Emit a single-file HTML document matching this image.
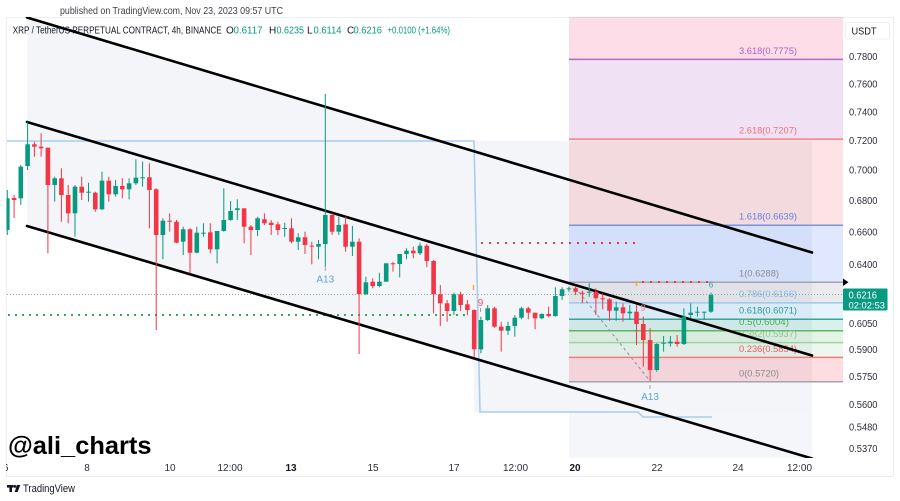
<!DOCTYPE html>
<html>
<head>
<meta charset="utf-8">
<style>
  html,body{margin:0;padding:0;background:#fff;}
  svg{display:block;font-family:"Liberation Sans",Arial,sans-serif;}
</style>
</head>
<body>
<svg width="900" height="501" viewBox="0 0 900 501" xmlns="http://www.w3.org/2000/svg">
  <defs>
    <clipPath id="plot"><rect x="6.5" y="17" width="836.5" height="441"/></clipPath>
    <clipPath id="tax"><rect x="6" y="455" width="840" height="20"/></clipPath>
  </defs>
  <rect width="900" height="501" fill="#fff"/>

  <!-- header -->
  <text x="60" y="14" font-size="10.5" fill="#3c3f47" textLength="223" lengthAdjust="spacingAndGlyphs">published on TradingView.com, Nov 23, 2023 09:57 UTC</text>

  <!-- panel border -->
  <rect x="6.5" y="17.5" width="887" height="459" fill="none" stroke="#eceef2" stroke-width="1"/>

  <g clip-path="url(#plot)">
    <!-- channel fill -->
    <polygon points="27,17.5 812,252.5 812,458.5 27,226" fill="#f3f5f8"/>
    <rect x="474" y="141" width="338" height="271" fill="#f3f5f8"/>
    <rect x="569" y="412" width="243" height="47" fill="#f5f6f9"/>

    <!-- fib fills -->
    <rect x="569" y="12" width="274" height="47.4" fill="#e91e63" fill-opacity="0.15"/>
    <rect x="569" y="59.4" width="274" height="79.7" fill="#9c27b0" fill-opacity="0.14"/>
    <rect x="569" y="139.1" width="274" height="86.2" fill="#f23645" fill-opacity="0.14"/>
    <rect x="569" y="225.3" width="274" height="57" fill="#2962ff" fill-opacity="0.15"/>
    <rect x="569" y="282.3" width="274" height="20.6" fill="#787b86" fill-opacity="0.15"/>
    <rect x="569" y="302.9" width="274" height="16.3" fill="#64b5f6" fill-opacity="0.17"/>
    <rect x="569" y="319.2" width="274" height="11.6" fill="#089981" fill-opacity="0.15"/>
    <rect x="569" y="330.8" width="274" height="11.8" fill="#4caf50" fill-opacity="0.15"/>
    <rect x="569" y="342.6" width="274" height="14.8" fill="#81c784" fill-opacity="0.15"/>
    <rect x="569" y="357.4" width="274" height="24.3" fill="#f23645" fill-opacity="0.17"/>

    <!-- fib lines -->
    <g stroke-width="1.5">
      <line x1="569" y1="59.4" x2="843" y2="59.4" stroke="#b06bc4"/>
      <line x1="569" y1="139.1" x2="843" y2="139.1" stroke="#ef7f84"/>
      <line x1="569" y1="225.3" x2="843" y2="225.3" stroke="#7b93e6"/>
      <line x1="569" y1="282.3" x2="843" y2="282.3" stroke="#a3a5ad"/>
      <line x1="569" y1="302.9" x2="843" y2="302.9" stroke="#9cc9ee"/>
      <line x1="569" y1="319.2" x2="843" y2="319.2" stroke="#3aa597"/>
      <line x1="569" y1="330.8" x2="843" y2="330.8" stroke="#5cb860"/>
      <line x1="569" y1="342.6" x2="843" y2="342.6" stroke="#9fd3a1"/>
      <line x1="569" y1="357.4" x2="843" y2="357.4" stroke="#f07c80"/>
      <line x1="569" y1="381.7" x2="843" y2="381.7" stroke="#a3a5ad"/>
    </g>

    <!-- fib labels -->
    <g font-size="9.5" lengthAdjust="spacingAndGlyphs">
      <text x="739" y="54" fill="#b05fc0" textLength="58" lengthAdjust="spacingAndGlyphs">3.618(0.7775)</text>
      <text x="739" y="133.5" fill="#e8757a" textLength="58" lengthAdjust="spacingAndGlyphs">2.618(0.7207)</text>
      <text x="739" y="219.5" fill="#6680e0" textLength="58" lengthAdjust="spacingAndGlyphs">1.618(0.6639)</text>
      <text x="739" y="276.5" fill="#8a8c94" textLength="40" lengthAdjust="spacingAndGlyphs">1(0.6288)</text>
      <text x="739" y="297" fill="#8ab8e6" textLength="58" lengthAdjust="spacingAndGlyphs">0.786(0.6166)</text>
      <text x="739" y="313.5" fill="#2a9d8f" textLength="58" lengthAdjust="spacingAndGlyphs">0.618(0.6071)</text>
      <text x="739" y="325" fill="#4caf50" textLength="50" lengthAdjust="spacingAndGlyphs">0.5(0.6004)</text>
      <text x="739" y="337" fill="#8cc78e" textLength="58" lengthAdjust="spacingAndGlyphs">0.382(0.5937)</text>
      <text x="739" y="352" fill="#f05a5f" textLength="58" lengthAdjust="spacingAndGlyphs">0.236(0.5854)</text>
      <text x="739" y="376.5" fill="#8a8c94" textLength="40" lengthAdjust="spacingAndGlyphs">0(0.5720)</text>
    </g>

    <!-- blue step line -->
    <path d="M7,141 H474 L480,412 H638 L643,417 H712" fill="none" stroke="#a8cdf0" stroke-width="1.6"/>

    <!-- dotted lines -->
    <line x1="7" y1="294.5" x2="843" y2="294.5" stroke="#86aba6" stroke-width="1" stroke-dasharray="1 2"/>
    <line x1="8" y1="315" x2="470" y2="315" stroke="#3aa85a" stroke-width="2" stroke-dasharray="2 5"/>
    <line x1="481" y1="243" x2="641" y2="243" stroke="#f23645" stroke-width="2" stroke-dasharray="2 6"/>
    <line x1="642" y1="282" x2="710" y2="282" stroke="#f23645" stroke-width="2" stroke-dasharray="2 6"/>

    <!-- dashed diagonal -->
    <line x1="575" y1="287" x2="650" y2="381" stroke="#8e9199" stroke-width="1" stroke-dasharray="3 3"/>

    <!-- channel lines -->
    <g stroke="#000" stroke-width="2.6" stroke-linecap="round">
      <line x1="27" y1="17.5" x2="812" y2="252.5"/>
      <line x1="27" y1="122" x2="812" y2="355.5"/>
      <line x1="27" y1="226" x2="812" y2="458.5"/>
    </g>

    <!-- green candles -->
    <g fill="#089981">
      <rect x="6.8" y="190" width="1" height="45"/><rect x="5.0" y="198.3" width="4.6" height="31.7"/>
      <rect x="20.3" y="165" width="1" height="40"/><rect x="18.5" y="166.7" width="4.6" height="31.6"/>
      <rect x="27.1" y="121.7" width="1" height="48.3"/><rect x="25.3" y="144.3" width="4.6" height="21.7"/>
      <rect x="54.2" y="176.7" width="1" height="25"/><rect x="52.4" y="178.3" width="4.6" height="6.7"/>
      <rect x="74.5" y="185" width="1" height="51.7"/><rect x="72.7" y="186.7" width="4.6" height="26.6"/>
      <rect x="88.0" y="182.7" width="1" height="19"/><rect x="86.2" y="191.7" width="4.6" height="1"/>
      <rect x="101.5" y="171.7" width="1" height="38.3"/><rect x="99.7" y="180.7" width="4.6" height="28.6"/>
      <rect x="115.1" y="180" width="1" height="16.7"/><rect x="113.3" y="186" width="4.6" height="8.3"/>
      <rect x="128.6" y="178.3" width="1" height="21"/><rect x="126.8" y="183.3" width="4.6" height="6"/>
      <rect x="135.4" y="159.3" width="1" height="25.7"/><rect x="133.6" y="177.7" width="4.6" height="5.6"/>
      <rect x="142.1" y="161.7" width="1" height="25"/><rect x="140.3" y="177.3" width="4.6" height="1"/>
      <rect x="162.4" y="218.3" width="1" height="41"/><rect x="160.6" y="220.7" width="4.6" height="14.3"/>
      <rect x="182.7" y="226.7" width="1" height="28.3"/><rect x="180.9" y="229.3" width="4.6" height="12.4"/>
      <rect x="196.3" y="226.7" width="1" height="26.6"/><rect x="194.5" y="232.7" width="4.6" height="20"/>
      <rect x="203.0" y="223.3" width="1" height="13.4"/><rect x="201.2" y="232.7" width="4.6" height="1"/>
      <rect x="216.6" y="231" width="1" height="32.3"/><rect x="214.8" y="231" width="4.6" height="18.3"/>
      <rect x="223.3" y="188.3" width="1" height="43.4"/><rect x="221.5" y="220" width="4.6" height="11"/>
      <rect x="230.1" y="201" width="1" height="19.7"/><rect x="228.3" y="211" width="4.6" height="9"/>
      <rect x="236.8" y="199.3" width="1" height="20.7"/><rect x="235.0" y="208.3" width="4.6" height="1.7"/>
      <rect x="257.1" y="216.7" width="1" height="19.3"/><rect x="255.3" y="218.3" width="4.6" height="11.7"/>
      <rect x="284.2" y="222.7" width="1" height="14"/><rect x="282.4" y="228" width="4.6" height="1"/>
      <rect x="297.7" y="233.3" width="1" height="16.7"/><rect x="295.9" y="237.3" width="4.6" height="4.4"/>
      <rect x="318.0" y="240" width="1" height="19.3"/><rect x="316.2" y="244" width="4.6" height="2.7"/>
      <rect x="324.8" y="94" width="1" height="172.7"/><rect x="323.0" y="215" width="4.6" height="29"/>
      <rect x="338.3" y="216.7" width="1" height="18.3"/><rect x="336.5" y="225" width="4.6" height="6.7"/>
      <rect x="351.9" y="226" width="1" height="30"/><rect x="350.1" y="241.7" width="4.6" height="5"/>
      <rect x="365.4" y="276.7" width="1" height="18.3"/><rect x="363.6" y="282.3" width="4.6" height="11.7"/>
      <rect x="378.9" y="272.7" width="1" height="14.6"/><rect x="377.1" y="281.7" width="4.6" height="4.3"/>
      <rect x="385.7" y="263.3" width="1" height="18.4"/><rect x="383.9" y="263.3" width="4.6" height="18.4"/>
      <rect x="399.2" y="254" width="1" height="23.3"/><rect x="397.4" y="254" width="4.6" height="10"/>
      <rect x="406.0" y="248.3" width="1" height="11"/><rect x="404.2" y="250.7" width="4.6" height="3.3"/>
      <rect x="419.5" y="242.7" width="1" height="12.3"/><rect x="417.7" y="245.7" width="4.6" height="7.6"/>
      <rect x="453.4" y="292.7" width="1" height="22.3"/><rect x="451.6" y="294.3" width="4.6" height="16.7"/>
      <rect x="480.4" y="316.7" width="1" height="36.6"/><rect x="478.6" y="320" width="4.6" height="29.3"/>
      <rect x="487.2" y="305" width="1" height="16"/><rect x="485.4" y="308.3" width="4.6" height="11.7"/>
      <rect x="507.5" y="321.7" width="1" height="13.3"/><rect x="505.7" y="326" width="4.6" height="4.7"/>
      <rect x="514.3" y="315" width="1" height="21.7"/><rect x="512.5" y="317.7" width="4.6" height="8.3"/>
      <rect x="521.0" y="306.7" width="1" height="12.6"/><rect x="519.2" y="308.3" width="4.6" height="9.4"/>
      <rect x="541.3" y="313.3" width="1" height="6"/><rect x="539.5" y="314" width="4.6" height="4.3"/>
      <rect x="554.9" y="287.3" width="1" height="29.4"/><rect x="553.1" y="296" width="4.6" height="20"/>
      <rect x="561.6" y="287.3" width="1" height="12.7"/><rect x="559.8" y="289.3" width="4.6" height="6.7"/>
      <rect x="568.4" y="286.7" width="1" height="5"/><rect x="566.6" y="288.3" width="4.6" height="1"/>
      <rect x="588.7" y="283.3" width="1" height="13.4"/><rect x="586.9" y="291.7" width="4.6" height="1"/>
      <rect x="615.7" y="301.7" width="1" height="19"/><rect x="613.9" y="307.3" width="4.6" height="3.4"/>
      <rect x="629.3" y="305" width="1" height="15"/><rect x="627.5" y="311.7" width="4.6" height="1.6"/>
      <rect x="656.3" y="343.3" width="1" height="28.4"/><rect x="654.5" y="344" width="4.6" height="26"/>
      <rect x="663.1" y="336" width="1" height="15.7"/><rect x="661.3" y="342.7" width="4.6" height="1"/>
      <rect x="669.9" y="336" width="1" height="10.7"/><rect x="668.1" y="341.7" width="4.6" height="1.6"/>
      <rect x="683.4" y="308.3" width="1" height="36.7"/><rect x="681.6" y="316.7" width="4.6" height="27.3"/>
      <rect x="690.2" y="303.3" width="1" height="15"/><rect x="688.4" y="312.7" width="4.6" height="2.3"/>
      <rect x="696.9" y="306.7" width="1" height="10"/><rect x="695.1" y="311.7" width="4.6" height="1"/>
      <rect x="703.7" y="311.7" width="1" height="8.3"/><rect x="701.9" y="311.7" width="4.6" height="1"/>
      <rect x="710.5" y="292.7" width="1" height="20"/><rect x="708.7" y="295" width="4.6" height="16.7"/>
    </g>

    <!-- red candles -->
    <g fill="#f23645">
      <rect x="13.6" y="195" width="1" height="23"/><rect x="11.8" y="198" width="4.6" height="2"/>
      <rect x="33.9" y="141.7" width="1" height="15"/><rect x="32.1" y="144.3" width="4.6" height="2.4"/>
      <rect x="40.6" y="133.3" width="1" height="23.4"/><rect x="38.8" y="146.7" width="4.6" height="1.6"/>
      <rect x="47.4" y="147.7" width="1" height="105.6"/><rect x="45.6" y="147.7" width="4.6" height="37.3"/>
      <rect x="60.9" y="168.3" width="1" height="53.4"/><rect x="59.1" y="178.3" width="4.6" height="16.7"/>
      <rect x="67.7" y="185" width="1" height="38.3"/><rect x="65.9" y="195" width="4.6" height="18.3"/>
      <rect x="81.2" y="176.7" width="1" height="23.3"/><rect x="79.4" y="186.7" width="4.6" height="6"/>
      <rect x="94.8" y="191.7" width="1" height="20"/><rect x="93.0" y="192.7" width="4.6" height="16.6"/>
      <rect x="108.3" y="176.7" width="1" height="25"/><rect x="106.5" y="180.7" width="4.6" height="13.6"/>
      <rect x="121.8" y="178.3" width="1" height="20"/><rect x="120.0" y="186" width="4.6" height="3.3"/>
      <rect x="148.9" y="163.3" width="1" height="65"/><rect x="147.1" y="177.3" width="4.6" height="12.7"/>
      <rect x="155.7" y="188.3" width="1" height="141.7"/><rect x="153.9" y="189.3" width="4.6" height="45.7"/>
      <rect x="169.2" y="213.3" width="1" height="18.4"/><rect x="167.4" y="220.7" width="4.6" height="1"/>
      <rect x="176.0" y="220" width="1" height="23.3"/><rect x="174.2" y="221.7" width="4.6" height="21"/>
      <rect x="189.5" y="228.3" width="1" height="45"/><rect x="187.7" y="229.3" width="4.6" height="23.4"/>
      <rect x="209.8" y="223.3" width="1" height="30"/><rect x="208.0" y="232.3" width="4.6" height="17"/>
      <rect x="243.6" y="208.3" width="1" height="35"/><rect x="241.8" y="208.3" width="4.6" height="18.4"/>
      <rect x="250.4" y="225" width="1" height="30"/><rect x="248.6" y="226.7" width="4.6" height="3.3"/>
      <rect x="263.9" y="213.3" width="1" height="11.7"/><rect x="262.1" y="219.3" width="4.6" height="4"/>
      <rect x="270.7" y="220" width="1" height="15"/><rect x="268.9" y="222.7" width="4.6" height="2.3"/>
      <rect x="277.4" y="221.7" width="1" height="13.3"/><rect x="275.6" y="224.3" width="4.6" height="5.7"/>
      <rect x="291.0" y="218.3" width="1" height="25"/><rect x="289.2" y="228.3" width="4.6" height="13.4"/>
      <rect x="304.5" y="231.7" width="1" height="22.3"/><rect x="302.7" y="237.3" width="4.6" height="7.7"/>
      <rect x="311.3" y="241.7" width="1" height="22.6"/><rect x="309.5" y="245.7" width="4.6" height="1"/>
      <rect x="331.6" y="213.3" width="1" height="21.7"/><rect x="329.8" y="215" width="4.6" height="16.7"/>
      <rect x="345.1" y="216.7" width="1" height="35"/><rect x="343.3" y="224.3" width="4.6" height="22.4"/>
      <rect x="358.6" y="238.3" width="1" height="115.7"/><rect x="356.8" y="241.7" width="4.6" height="52.3"/>
      <rect x="372.2" y="278.3" width="1" height="10"/><rect x="370.4" y="281.7" width="4.6" height="4.3"/>
      <rect x="392.5" y="261.7" width="1" height="10"/><rect x="390.7" y="263.3" width="4.6" height="1"/>
      <rect x="412.8" y="246.7" width="1" height="11.6"/><rect x="411.0" y="250.7" width="4.6" height="2.6"/>
      <rect x="426.3" y="244" width="1" height="23.3"/><rect x="424.5" y="245.7" width="4.6" height="15.3"/>
      <rect x="433.1" y="260" width="1" height="53.3"/><rect x="431.3" y="261" width="4.6" height="33.3"/>
      <rect x="439.8" y="285" width="1" height="41"/><rect x="438.0" y="294.3" width="4.6" height="9"/>
      <rect x="446.6" y="300" width="1" height="21.7"/><rect x="444.8" y="303.3" width="4.6" height="7.7"/>
      <rect x="460.1" y="291.7" width="1" height="19.3"/><rect x="458.3" y="294.3" width="4.6" height="10.7"/>
      <rect x="466.9" y="300" width="1" height="15"/><rect x="465.1" y="304.3" width="4.6" height="5.7"/>
      <rect x="473.7" y="309.3" width="1" height="47.4"/><rect x="471.9" y="310" width="4.6" height="39.3"/>
      <rect x="494.0" y="306.7" width="1" height="21"/><rect x="492.2" y="308.3" width="4.6" height="18.4"/>
      <rect x="500.7" y="321.7" width="1" height="30"/><rect x="498.9" y="326.7" width="4.6" height="4"/>
      <rect x="527.8" y="306.7" width="1" height="12.6"/><rect x="526.0" y="308.3" width="4.6" height="4.4"/>
      <rect x="534.6" y="312.7" width="1" height="16.6"/><rect x="532.8" y="312.7" width="4.6" height="5.6"/>
      <rect x="548.1" y="306.7" width="1" height="10.6"/><rect x="546.3" y="314" width="4.6" height="2"/>
      <rect x="575.1" y="286" width="1" height="9"/><rect x="573.3" y="288.3" width="4.6" height="3.4"/>
      <rect x="581.9" y="290.7" width="1" height="12.6"/><rect x="580.1" y="292.7" width="4.6" height="1"/>
      <rect x="595.4" y="288.3" width="1" height="26.7"/><rect x="593.6" y="291.7" width="4.6" height="6.6"/>
      <rect x="602.2" y="293.3" width="1" height="16"/><rect x="600.4" y="298.3" width="4.6" height="1"/>
      <rect x="609.0" y="298.3" width="1" height="22.4"/><rect x="607.2" y="299.3" width="4.6" height="11.4"/>
      <rect x="622.5" y="303.3" width="1" height="18.4"/><rect x="620.7" y="307.3" width="4.6" height="6"/>
      <rect x="636.0" y="305" width="1" height="40"/><rect x="634.2" y="311.7" width="4.6" height="12.3"/>
      <rect x="642.8" y="316.7" width="1" height="50"/><rect x="641.0" y="324" width="4.6" height="16"/>
      <rect x="649.6" y="328.3" width="1" height="52.7"/><rect x="647.8" y="340" width="4.6" height="30"/>
      <rect x="676.6" y="335" width="1" height="11.7"/><rect x="674.8" y="341.7" width="4.6" height="2.3"/>
    </g>

    <!-- annotations -->
    <line x1="325.3" y1="266" x2="325.3" y2="271" stroke="#9aa0aa" stroke-width="1"/>
    <text x="325.3" y="282.5" font-size="10" fill="#5ba3e0" text-anchor="middle">A13</text>
    <line x1="650" y1="385" x2="650" y2="389" stroke="#9aa0aa" stroke-width="1"/>
    <text x="650" y="400" font-size="10" fill="#5ba3e0" text-anchor="middle">A13</text>
    <text x="480.5" y="306" font-size="10" fill="#f7525f" text-anchor="middle">9</text>
    <line x1="480.5" y1="308" x2="480.5" y2="312" stroke="#9aa0aa" stroke-width="1"/>
    <text x="643" y="311" font-size="9.5" fill="#f7828a" text-anchor="middle">9</text>
    <line x1="473.5" y1="285" x2="473.5" y2="290" stroke="#ffa726" stroke-width="1.5"/>
    <line x1="636.5" y1="281" x2="636.5" y2="286" stroke="#ffa726" stroke-width="1.5"/>
    <text x="711" y="287.5" font-size="8" fill="#26a69a" text-anchor="middle">6</text>
  </g>

  <!-- symbol / OHLC line -->
  <g font-size="10">
    <text x="12.7" y="33.5" fill="#131722" textLength="209" lengthAdjust="spacingAndGlyphs">XRP / TetherUS PERPETUAL CONTRACT, 4h, BINANCE</text>
    <text x="226" y="33.5" fill="#131722">O</text>
    <text x="233.5" y="33.5" fill="#089981" textLength="29" lengthAdjust="spacingAndGlyphs">0.6117</text>
    <text x="269" y="33.5" fill="#131722">H</text>
    <text x="276.5" y="33.5" fill="#089981" textLength="27.5" lengthAdjust="spacingAndGlyphs">0.6235</text>
    <text x="307" y="33.5" fill="#131722">L</text>
    <text x="313.5" y="33.5" fill="#089981" textLength="28" lengthAdjust="spacingAndGlyphs">0.6114</text>
    <text x="347" y="33.5" fill="#131722">C</text>
    <text x="353.5" y="33.5" fill="#089981" textLength="28.5" lengthAdjust="spacingAndGlyphs">0.6216</text>
    <text x="387.5" y="33.5" fill="#089981" textLength="62.5" lengthAdjust="spacingAndGlyphs">+0.0100 (+1.64%)</text>
  </g>

  <!-- price axis -->
  <rect x="845.5" y="22.5" width="44" height="16.5" rx="2" fill="#fff" stroke="#eceef2"/>
  <text x="851.5" y="34.5" font-size="10" fill="#131722" textLength="25" lengthAdjust="spacingAndGlyphs">USDT</text>
  <g font-size="10" fill="#2a2e39">
    <text x="849" y="60" textLength="28.5" lengthAdjust="spacingAndGlyphs">0.7800</text>
    <text x="849" y="87.3" textLength="28.5" lengthAdjust="spacingAndGlyphs">0.7600</text>
    <text x="849" y="115.3" textLength="28.5" lengthAdjust="spacingAndGlyphs">0.7400</text>
    <text x="849" y="144.1" textLength="28.5" lengthAdjust="spacingAndGlyphs">0.7200</text>
    <text x="849" y="173.7" textLength="28.5" lengthAdjust="spacingAndGlyphs">0.7000</text>
    <text x="849" y="204.1" textLength="28.5" lengthAdjust="spacingAndGlyphs">0.6800</text>
    <text x="849" y="235.4" textLength="28.5" lengthAdjust="spacingAndGlyphs">0.6600</text>
    <text x="849" y="267.8" textLength="28.5" lengthAdjust="spacingAndGlyphs">0.6400</text>
    <text x="849" y="326.8" textLength="28.5" lengthAdjust="spacingAndGlyphs">0.6050</text>
    <text x="849" y="353.2" textLength="28.5" lengthAdjust="spacingAndGlyphs">0.5900</text>
    <text x="849" y="380.2" textLength="28.5" lengthAdjust="spacingAndGlyphs">0.5750</text>
    <text x="849" y="408" textLength="28.5" lengthAdjust="spacingAndGlyphs">0.5600</text>
    <text x="849" y="430.7" textLength="28.5" lengthAdjust="spacingAndGlyphs">0.5480</text>
    <text x="849" y="452" textLength="28.5" lengthAdjust="spacingAndGlyphs">0.5370</text>
  </g>
  <polygon points="843,278.5 848.5,282.3 843,286" fill="#000"/>
  <rect x="843" y="288.5" width="44.5" height="22" rx="1.5" fill="#089981"/>
  <text x="848.5" y="298.5" font-size="10" fill="#fff" textLength="28.5" lengthAdjust="spacingAndGlyphs">0.6216</text>
  <text x="848.5" y="308.3" font-size="9.5" fill="#fff" textLength="36.5" lengthAdjust="spacingAndGlyphs">02:02:53</text>

  <!-- watermark text -->
  <text x="8" y="454" font-size="25" font-weight="bold" fill="#000" textLength="143.5" lengthAdjust="spacingAndGlyphs">@ali_charts</text>

  <!-- time axis -->
  <g font-size="10" fill="#2a2e39" text-anchor="middle" clip-path="url(#tax)">
    <text x="5.6" y="471">6</text>
    <text x="87" y="471">8</text>
    <text x="170" y="471">10</text>
    <text x="230" y="471">12:00</text>
    <text x="291" y="471" font-weight="bold" fill="#131722">13</text>
    <text x="373" y="471">15</text>
    <text x="454" y="471">17</text>
    <text x="515.5" y="471">12:00</text>
    <text x="575" y="471" font-weight="bold" fill="#131722">20</text>
    <text x="657" y="471">22</text>
    <text x="738" y="471">24</text>
    <text x="799.5" y="471">12:00</text>
  </g>
  <line x1="6" y1="476.5" x2="894" y2="476.5" stroke="#eceef2" stroke-width="1"/>

  <!-- TradingView footer logo -->
  <g fill="#131722">
    <rect x="7" y="485" width="6.5" height="2.6"/>
    <rect x="9.4" y="485" width="2.6" height="7"/>
    <circle cx="15" cy="486.4" r="1.4"/>
    <polygon points="17,485 20.3,485 17.6,492 14.6,492"/>
  </g>
  <text x="23" y="492" font-size="11" fill="#131722" textLength="52" lengthAdjust="spacingAndGlyphs">TradingView</text>
</svg>
</body>
</html>
